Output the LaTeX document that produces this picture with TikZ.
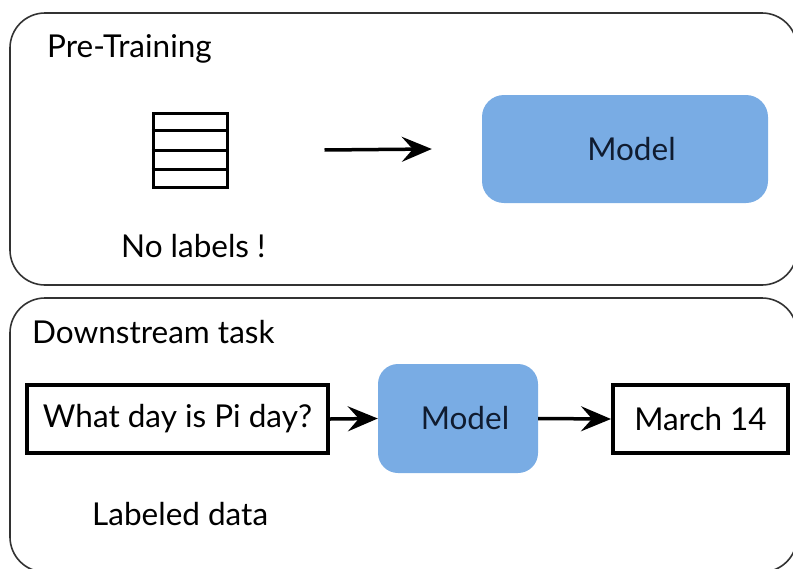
\documentclass[tikz,border=0pt]{standalone}
\usepackage{fontspec}
\setmainfont{Lato}
\usetikzlibrary{arrows.meta,calc}
\definecolor{modelblue}{RGB}{121,172,228}
\definecolor{modelink}{RGB}{16,28,48}
\definecolor{panelgray}{RGB}{50,50,50}
\newcommand{\diagfont}{\fontsize{31.5pt}{38pt}\selectfont}
\tikzset{
  panel/.style={draw=panelgray, line width=1.6pt, rounded corners=35pt, inner sep=0pt},
  caption/.style={anchor=base west, inner sep=0pt, font=\diagfont},
  modelbox/.style={fill=modelblue, rounded corners=22pt, inner sep=0pt,
    text=modelink, font=\diagfont},
  textbox/.style={draw=black, line width=4pt, inner sep=0pt, font=\diagfont},
  flow/.style={line width=3.5pt, -{Stealth[length=30pt, width=25pt, inset=11pt]}},
}
\begin{document}
\begin{tikzpicture}[x=1pt, y=-1pt]
  \useasboundingbox (0,0) rectangle (793,568);

  % Pre-training panel
  \node[panel, minimum width=787pt, minimum height=272pt] (pre) at (403.5,149) {};
  \node[caption] (pretitle) at (47,57) {Pre-Training};

  % unlabeled data stack
  \node[draw, line width=3pt, minimum width=74pt, minimum height=74pt, inner sep=0pt] (stack) at (190,150) {};
  \foreach \f in {0.25,0.5,0.75}
    \draw[line width=3pt] ($(stack.north west)!\f!(stack.south west)$) -- ($(stack.north east)!\f!(stack.south east)$);
  \node[caption] (nolab) at (121,257) {No labels !};

  \node[modelbox, minimum width=286pt, minimum height=108pt] (m1) at (625,149) {\hspace*{13pt}Model};
  \draw[flow] ([xshift=96pt]stack.east) -- ([xshift=-50pt]m1.west);

  % Downstream panel
  \node[panel, minimum width=787pt, minimum height=274pt] (down) at (403.5,435) {};
  \node[caption] (downtitle) at (32,343) {Downstream task};

  \node[textbox, minimum width=301pt, minimum height=68pt] (q) at (177.5,419) {What day is Pi day?};
  \node[modelbox, rounded corners=20pt, minimum width=160pt, minimum height=109pt] (m2) at (458,418.5) {\hspace*{14pt}Model};
  \node[textbox, minimum width=175pt, minimum height=68pt] (ans) at (700.5,419) {March 14};
  \draw[flow] (q.east) -- (m2.west);
  \draw[flow] (m2.east) -- (ans.west);

  \node[caption] (labdata) at (92,525) {Labeled data};
\end{tikzpicture}
\end{document}
